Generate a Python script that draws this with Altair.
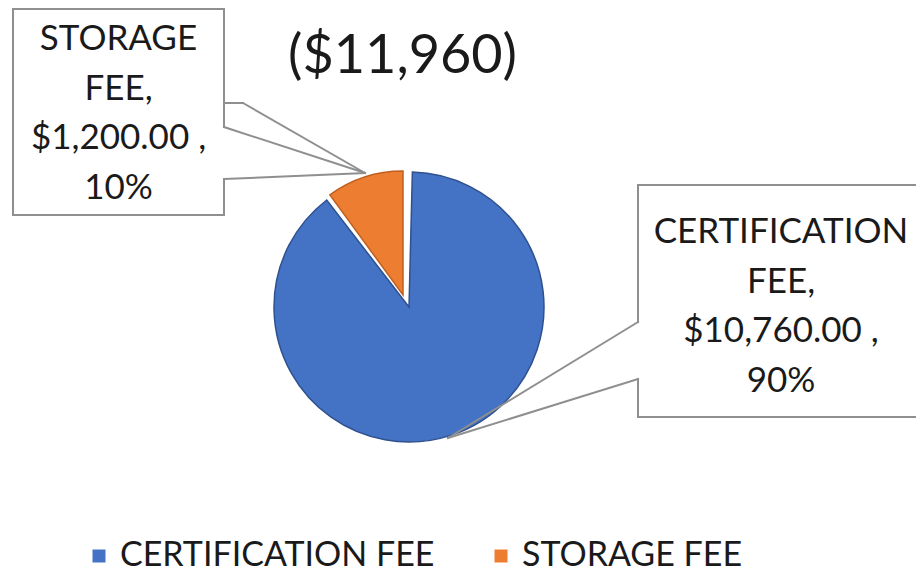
import math
import altair as alt
import pandas as pd

# ---------------- data ----------------
CATEGORIES = ["CERTIFICATION FEE", "STORAGE FEE"]
VALUES = [10760.00, 1200.00]
COLORS = ["#4472C4", "#ED7D31"]
EDGE_COLORS = ["#2F528F", "#C0601F"]

total = sum(VALUES)


def make_label(cat, v):
    words = cat.split(" ")
    words[-1] += ","
    return "\n".join(words + [f"${v:,.2f} ,", f"{v / total:.0%}"])


df = pd.DataFrame({
    "category": CATEGORIES,
    "value": VALUES,
    "order": list(range(len(CATEGORIES))),
    "label": [make_label(c, v) for c, v in zip(CATEGORIES, VALUES)],
})
TITLE = f"(${total:,.0f})"

# ---------------- layout / style ----------------
FONT = "Lato"
TEXT_COLOR = "#1a1a1a"
BOX_GRAY = "#8f8f8f"
OFF = 8  # page margin


def px(v):
    return v - OFF


color = alt.Color(
    "category:N",
    scale=alt.Scale(domain=CATEGORIES, range=COLORS),
    legend=alt.Legend(
        orient="none", legendX=px(82), legendY=px(539), direction="horizontal",
        title=None, symbolType="square", symbolSize=169, symbolStrokeWidth=0,
        labelFont=FONT, labelFontSize=34, labelColor=TEXT_COLOR, labelOffset=4,
        columnPadding=49, labelLimit=800, padding=0,
    ),
)

stacked = alt.Chart(df).transform_stack(
    stack="value", groupby=[], as_=["v0", "v1"], sort=[alt.SortField("order")]
)
theta_scale = alt.Scale(domain=[0, total], range=[0, 2 * math.pi])


def slice_layer(i, cx, cy, r, pad):
    return stacked.transform_filter(alt.datum.category == CATEGORIES[i]).mark_arc(
        stroke=EDGE_COLORS[i], strokeWidth=1.5, padAngle=pad
    ).encode(
        theta=alt.Theta("v0:Q", scale=theta_scale, stack=None),
        theta2="v1:Q",
        color=color,
        x=alt.value(px(cx)), y=alt.value(px(cy)), radius=alt.value(r),
    )


def seg(x1, y1, x2, y2):
    return alt.Chart(pd.DataFrame({"d": [0]})).mark_rule(
        color=BOX_GRAY, strokeWidth=2, strokeCap="square"
    ).encode(x=alt.value(px(x1)), y=alt.value(px(y1)),
             x2=alt.value(px(x2)), y2=alt.value(px(y2)))


def box_fill(x1, y1, x2, y2):
    return alt.Chart(pd.DataFrame({"d": [0]})).mark_rect(fill="white").encode(
        x=alt.value(px(x1)), y=alt.value(px(y1)),
        x2=alt.value(px(x2)), y2=alt.value(px(y2)))


def callout_text(i, cx, y_first):
    return alt.Chart(df).transform_filter(alt.datum.category == CATEGORIES[i]).mark_text(
        font=FONT, fontSize=35, lineBreak="\n", lineHeight=49.5,
        align="center", baseline="alphabetic", color=TEXT_COLOR,
    ).encode(text="label:N", x=alt.value(px(cx)), y=alt.value(px(y_first)))


title = alt.Chart(pd.DataFrame({"t": [TITLE]})).mark_text(
    font=FONT, fontSize=54, align="center", baseline="alphabetic", color=TEXT_COLOR
).encode(text="t:N", x=alt.value(px(402.5)), y=alt.value(px(73)))

TOP = 9  # top edge of the left callout (kept inside the visible area)

layers = [
    slice_layer(0, 409, 307, 135, 0.05),
    slice_layer(1, 403, 295, 124, 0),
    # left callout (storage)
    box_fill(13, TOP, 224, 215),
    seg(13, TOP, 224, TOP), seg(13, TOP, 13, 215), seg(13, 215, 224, 215),
    seg(224, TOP, 224, 127), seg(224, 179, 224, 215),
    seg(224, 103, 243, 103), seg(243, 103, 365, 173),
    seg(224, 127, 365, 173), seg(224, 179, 365, 173),
    callout_text(1, 118.5, 50),
    # right callout (certification)
    box_fill(638, 185, 921, 417),
    seg(638, 185, 921, 185), seg(921, 185, 921, 417), seg(638, 417, 921, 417),
    seg(638, 185, 638, 322), seg(638, 379, 638, 417),
    seg(638, 322, 448, 438), seg(638, 379, 448, 438),
    callout_text(0, 781, 243),
    title,
]

chart = alt.layer(*layers).properties(
    width=908, height=566, padding=0, background="white",
    autosize=alt.AutoSizeParams(type="none"),
).configure_view(stroke=None)

chart.save("out.html", embed_options={"renderer": "svg", "actions": False})
